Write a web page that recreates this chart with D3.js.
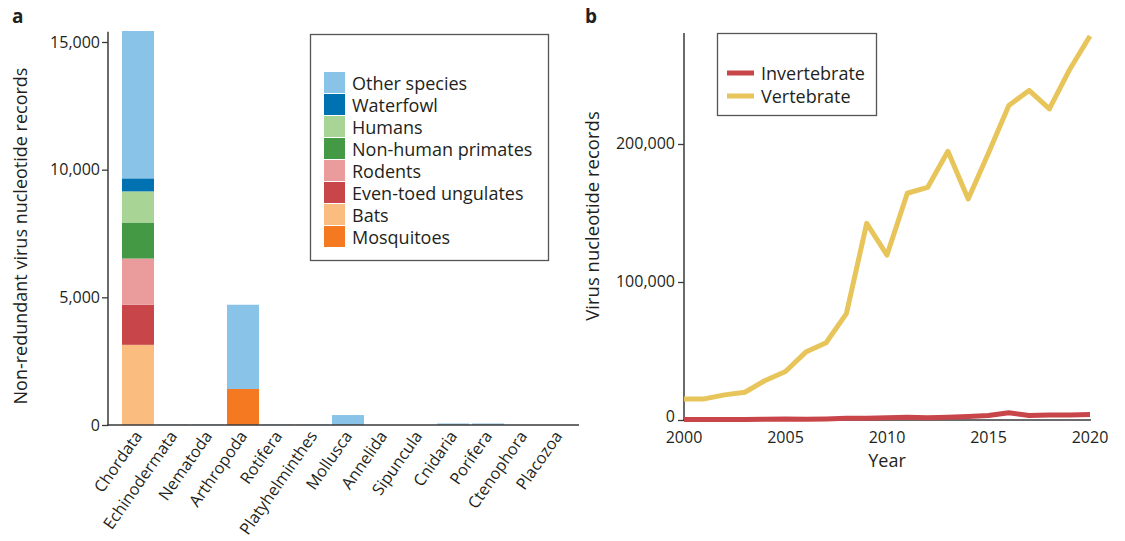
<!DOCTYPE html>
<html><head><meta charset="utf-8">
<script src="https://cdn.jsdelivr.net/npm/d3@7"></script>
<style>
body{margin:0;background:#fff;}
text{font-family:"Open Sans",sans-serif;fill:#231f20;}
</style></head>
<body><svg id="c" width="1125" height="541"></svg>
<script>
// ---- Panel a data ----
const phyla = ["Chordata","Echinodermata","Nematoda","Arthropoda","Rotifera","Platyhelminthes","Mollusca","Annelida","Sipuncula","Cnidaria","Porifera","Ctenophora","Placozoa"];
const hostGroups = ["Mosquitoes","Bats","Even-toed ungulates","Rodents","Non-human primates","Humans","Waterfowl","Other species"];
const hostColors = ["#f47920","#fbbc80","#c8454a","#ea9c9c","#449a44","#a8d595","#0072b2","#89c3e7"];
const mosquitoes = [0,0,0,1410,0,0,0,0,0,0,0,0,0];
const bats = [3140,0,0,0,0,0,0,0,0,0,0,0,0];
const evenToed = [1570,0,0,0,0,0,0,0,0,0,0,0,0];
const rodents = [1810,0,0,0,0,0,0,0,0,0,0,0,0];
const nhPrimates = [1410,0,0,0,0,0,0,0,0,0,0,0,0];
const humans = [1220,0,0,0,0,0,0,0,0,0,0,0,0];
const waterfowl = [510,0,0,0,0,0,0,0,0,0,0,0,0];
const otherSpecies = [5770,15,15,3300,15,15,390,5,5,60,60,5,5];
const yTicksA = [0,5000,10000,15000];

// ---- Panel b data ----
const years = d3.range(2000,2021);
const invertebrate = [300,300,400,400,500,700,500,800,1200,1200,1700,2000,1600,2000,2600,3200,5200,3200,3600,3600,4000];
const vertebrate = [15300,15300,18200,20100,28600,35100,49200,56000,77100,142500,119500,164300,168500,194700,160200,193400,227900,238800,225400,254000,278300];
const lineNames = ["Invertebrate","Vertebrate"];
const lineColors = ["#c8454a","#e8c55a"];
const yTicksB = [0,100000,200000];
const xTicksB = [2000,2005,2010,2015,2020];

const svg = d3.select("#c");
const fmt = d3.format(",");
const axisColor = "#3a3a3a";

// ===== Panel a =====
const xA = d3.scaleBand().domain(phyla).range([120.5,575.5]).paddingInner(0.086).paddingOuter(0.043);
const yA = d3.scaleLinear().domain([0,15000]).range([425,42]);
const series = [mosquitoes,bats,evenToed,rodents,nhPrimates,humans,waterfowl,otherSpecies];
const rows = phyla.map((p,i)=>{const r={phylum:p}; hostGroups.forEach((g,k)=>r[g]=series[k][i]); return r;});
const stacked = d3.stack().keys(hostGroups)(rows);
const gA = svg.append("g");
gA.selectAll("g.layer").data(stacked).join("g").attr("fill",(d,i)=>hostColors[i])
  .selectAll("rect").data(d=>d).join("rect")
  .attr("x",d=>xA(d.data.phylum)).attr("width",xA.bandwidth())
  .attr("y",d=>yA(d[1])).attr("height",d=>Math.max(0,yA(d[0])-yA(d[1])));

const axA = gA.append("g").attr("transform","translate(108,0)")
  .call(d3.axisLeft(yA).tickValues(yTicksA).tickFormat(fmt).tickSize(6).tickSizeOuter(0));
axA.select(".domain").remove();
axA.selectAll(".tick line").attr("stroke",axisColor).attr("stroke-width",1.3);
axA.selectAll(".tick text").attr("font-size",16).attr("font-family","Open Sans").attr("fill","#231f20").attr("x",-8);
gA.append("line").attr("x1",108).attr("x2",108).attr("y1",yA(15400)).attr("y2",yA(0)+1).attr("stroke",axisColor).attr("stroke-width",1.5);
gA.append("line").attr("x1",107).attr("x2",579).attr("y1",yA(0)).attr("y2",yA(0)).attr("stroke",axisColor).attr("stroke-width",1.5);
gA.selectAll("text.xl").data(phyla).join("text").attr("class","xl")
  .attr("transform",d=>`translate(${xA(d)+xA.bandwidth()/2+5},436) rotate(-55)`)
  .attr("text-anchor","end").attr("font-size",16.3).text(d=>d);
gA.append("text").attr("transform","translate(27,236) rotate(-90)").attr("text-anchor","middle")
  .attr("font-size",18).text("Non-redundant virus nucleotide records");
gA.append("text").attr("x",12).attr("y",23).attr("font-size",19).attr("font-weight","bold").text("a");

const legA = gA.append("g");
legA.append("rect").attr("x",310.5).attr("y",34.5).attr("width",238).attr("height",226).attr("fill","#fff").attr("stroke","#555").attr("stroke-width",1.3);
const legOrder = hostGroups.slice().reverse();
legOrder.forEach((g,i)=>{
  const c = hostColors[hostGroups.indexOf(g)];
  legA.append("rect").attr("x",324).attr("y",72+i*22).attr("width",21).attr("height",21).attr("fill",c);
  legA.append("text").attr("x",352).attr("y",89.5+i*22).attr("font-size",18).text(g);
});

// ===== Panel b =====
const xB = d3.scaleLinear().domain([2000,2020]).range([684,1090]);
const yB = d3.scaleLinear().domain([0,200000]).range([420,144]);
const gB = svg.append("g");
const axB = gB.append("g").attr("transform","translate(684,0)")
  .call(d3.axisLeft(yB).tickValues(yTicksB).tickFormat(fmt).tickSize(6).tickSizeOuter(0));
axB.select(".domain").remove();
axB.selectAll(".tick line").attr("stroke",axisColor).attr("stroke-width",1.3);
axB.selectAll(".tick text").attr("font-size",16).attr("font-family","Open Sans").attr("fill","#231f20").attr("x",-9)
  .attr("dy",d=>d===0?"0.1em":"0.3em");
gB.append("line").attr("x1",684).attr("x2",684).attr("y1",33).attr("y2",421).attr("stroke",axisColor).attr("stroke-width",1.5);
gB.append("line").attr("x1",683).attr("x2",1091).attr("y1",yB(0)).attr("y2",yB(0)).attr("stroke",axisColor).attr("stroke-width",1.5);
gB.selectAll("text.xt").data(xTicksB).join("text").attr("class","xt")
  .attr("x",d=>xB(d)).attr("y",443).attr("text-anchor","middle").attr("font-size",16).text(d=>d);
gB.append("text").attr("x",887).attr("y",467).attr("text-anchor","middle").attr("font-size",18).text("Year");
gB.append("text").attr("transform","translate(599,216) rotate(-90)").attr("text-anchor","middle")
  .attr("font-size",18.5).text("Virus nucleotide records");
gB.append("text").attr("x",585).attr("y",23).attr("font-size",19).attr("font-weight","bold").text("b");

const line = d3.line().x((d,i)=>xB(years[i])).y(d=>yB(d));
[invertebrate,vertebrate].forEach((s,k)=>{
  gB.append("path").datum(s).attr("d",line).attr("fill","none").attr("stroke",lineColors[k])
    .attr("stroke-width",5).attr("stroke-linejoin","round");
});
const legB = gB.append("g");
legB.append("rect").attr("x",717.5).attr("y",33.5).attr("width",159).attr("height",82).attr("fill","#fff").attr("stroke","#555").attr("stroke-width",1.3);
lineNames.forEach((n,i)=>{
  legB.append("line").attr("x1",727).attr("x2",754).attr("y1",73+i*23).attr("y2",73+i*23).attr("stroke",lineColors[i]).attr("stroke-width",5);
  legB.append("text").attr("x",761).attr("y",79.5+i*23).attr("font-size",18).text(n);
});
</script></body></html>
